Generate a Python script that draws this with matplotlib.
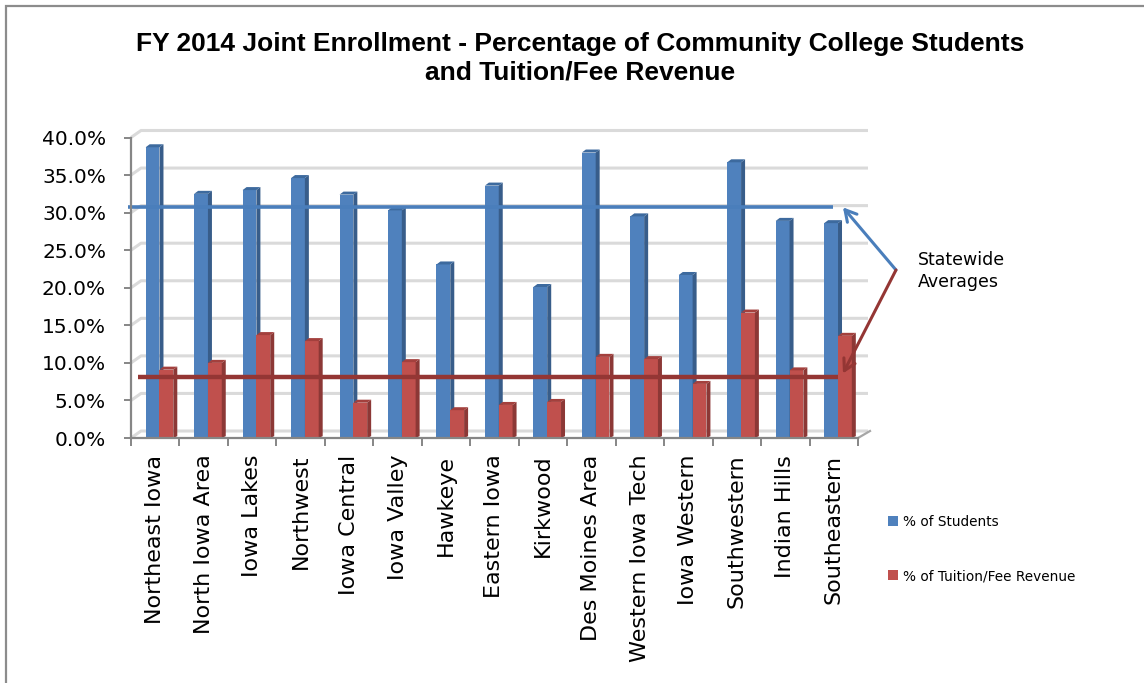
import matplotlib
matplotlib.use("Agg")
import matplotlib.pyplot as plt
from matplotlib.patches import Polygon, Patch, Rectangle

colleges = ["Northeast Iowa", "North Iowa Area", "Iowa Lakes", "Northwest", "Iowa Central",
            "Iowa Valley", "Hawkeye", "Eastern Iowa", "Kirkwood", "Des Moines Area",
            "Western Iowa Tech", "Iowa Western", "Southwestern", "Indian Hills", "Southeastern"]
pct_students = [38.7, 32.5, 33.0, 34.6, 32.4, 30.3, 23.1, 33.6, 20.1, 38.0, 29.5, 21.7, 36.7, 28.9, 28.6]
pct_revenue = [9.1, 10.0, 13.7, 12.9, 4.7, 10.1, 3.7, 4.4, 4.8, 10.8, 10.5, 7.2, 16.7, 9.0, 13.6]
avg_students = 30.7
avg_revenue = 8.1
y_ticks = [0, 5, 10, 15, 20, 25, 30, 35, 40]
y_ticklabels = ["0.0%", "5.0%", "10.0%", "15.0%", "20.0%", "25.0%", "30.0%", "35.0%", "40.0%"]
series_names = ["% of Students", "% of Tuition/Fee Revenue"]

W, H = 1144, 683
fig = plt.figure(figsize=(W / 100, H / 100), dpi=100)
fig.patch.set_facecolor("white")

ax_left, ax_right = 131, 858
ax_bottom, ax_top = 438, 137.5
ax = fig.add_axes([ax_left / W, (H - ax_bottom) / H, (ax_right - ax_left) / W, (ax_bottom - ax_top) / H])
n = len(colleges)
ax.set_xlim(-0.5, n - 0.5)
ax.set_ylim(0, 40)
ax.set_facecolor("none")

px_x = (ax_right - ax_left) / n          # pixels per category
px_y = (ax_bottom - ax_top) / 40.0       # pixels per percent

# back wall grid (3D offset)
gdx, gdy = 10 / px_x, 7 / px_y
grid_col = "#DADADA"
for v in y_ticks:
    ax.plot([-0.5, -0.5 + gdx, n - 0.5 + gdx], [v, v + gdy, v + gdy], color=grid_col, lw=2.2,
            clip_on=False, zorder=1, solid_capstyle="butt")
# right floor edge
ax.plot([n - 0.5, n - 0.5 + gdx * 1.2], [0, gdy], color="#A6A6A6", lw=1.6, clip_on=False, zorder=2)

# 3D-ish bars
bw = 0.285
sdx, sdy = 4 / px_x, 3 / px_y

def bars3d(xc, vals, front, side, top):
    ax.bar(xc, vals, width=bw, color=front, edgecolor="none", zorder=3)
    for x, v in zip(xc, vals):
        r = x + bw / 2
        l = x - bw / 2
        ax.add_patch(Polygon([(r, 0), (r + sdx, sdy * 0.6), (r + sdx, v + sdy), (r, v)],
                             closed=True, facecolor=side, edgecolor="none", zorder=3, clip_on=False))
        ax.add_patch(Polygon([(l, v), (l + sdx, v + sdy), (r + sdx, v + sdy), (r, v)],
                             closed=True, facecolor=top, edgecolor="none", zorder=3, clip_on=False))

x = list(range(n))
xb = [i - 0.055 for i in x]
xr = [i + 0.23 for i in x]
bars3d(xb, pct_students, "#4F81BD", "#385D8A", "#3D6A9E")
bars3d(xr, pct_revenue, "#C0504D", "#8C3836", "#A3403D")

# statewide average lines
ax.hlines(avg_students, -0.56, 13.98, color="#4A7EBB", lw=2.6, zorder=5, clip_on=False)
ax.hlines(avg_revenue, -0.36, 14.09, color="#943634", lw=3.2, zorder=5, clip_on=False)

# axes styling
for s in ["top", "right"]:
    ax.spines[s].set_visible(False)
for s in ["left", "bottom"]:
    ax.spines[s].set_color("#868686")
    ax.spines[s].set_linewidth(1.6)
    ax.spines[s].set_zorder(6)

ax.set_yticks(y_ticks)
ax.set_yticklabels(y_ticklabels, fontsize=14.5, family="DejaVu Sans")
ax.tick_params(axis="y", length=5, width=1.4, color="#868686", pad=13)
ax.set_xticks(x)
ax.set_xticklabels(colleges, rotation=90, fontsize=16, family="DejaVu Sans")
ax.set_xticks([i - 0.5 for i in range(n + 1)], minor=True)
ax.tick_params(axis="x", which="major", length=0, pad=12)
ax.tick_params(axis="x", which="minor", length=6, width=1.4, color="#868686")

# title
fig.text(580 / W, 1 - 44 / H, "FY 2014 Joint Enrollment - Percentage of Community College Students",
         ha="center", va="center", fontsize=19, fontweight="bold", family="Liberation Sans")
fig.text(580 / W, 1 - 73 / H, "and Tuition/Fee Revenue",
         ha="center", va="center", fontsize=19, fontweight="bold", family="Liberation Sans")

# annotation
fig.text(918 / W, 1 - 271 / H, "Statewide\nAverages", ha="left", va="center", fontsize=12.5,
         family="DejaVu Sans", linespacing=1.25)
src = (896, H - 270)
ax.annotate("", xy=(14.19, avg_students), xycoords="data", xytext=src, textcoords="figure pixels",
            arrowprops=dict(arrowstyle="->,head_length=0.8,head_width=0.45", color="#4A7EBB", lw=2.2,
                            shrinkA=0, shrinkB=0), annotation_clip=False, zorder=7)
ax.annotate("", xy=(14.19, 8.6), xycoords="data", xytext=src, textcoords="figure pixels",
            arrowprops=dict(arrowstyle="->,head_length=0.8,head_width=0.45", color="#943634", lw=2.2,
                            shrinkA=0, shrinkB=0), annotation_clip=False, zorder=7)

# legend
handles = [Patch(facecolor="#4F81BD", edgecolor="none"), Patch(facecolor="#C0504D", edgecolor="none")]
fig.legend(handles, series_names, loc="upper left", bbox_to_anchor=(888 / W, 1 - 515 / H),
           frameon=False, prop={"family": "DejaVu Sans", "size": 9.8},
           handlelength=0.75, handleheight=0.75, handletextpad=0.35, labelspacing=2.95,
           borderpad=0, borderaxespad=0)

# outer border
fig.add_artist(Rectangle((6 / W, -0.1), 1.2, 1.1 - 6 / H, transform=fig.transFigure,
                         facecolor="none", edgecolor="#8C8C8C", lw=1.6))

fig.savefig("out.png", dpi=100)
